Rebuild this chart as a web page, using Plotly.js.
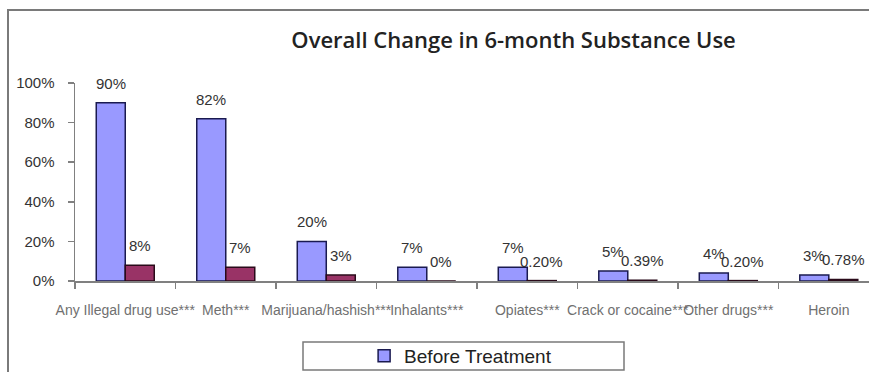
<!DOCTYPE html>
<html>
<head>
<meta charset="utf-8">
<script src="https://cdn.plot.ly/plotly-3.0.1.min.js"></script>
<style>
  html, body { margin: 0; padding: 0; background: #ffffff; }
  #wrap { position: relative; width: 869px; height: 372px; overflow: hidden; }
  #chart { position: absolute; left: 0; top: 0; width: 869px; height: 372px; }
  #frame { position: absolute; left: 7px; top: 9px; width: 900px; height: 400px;
           border-left: 2px solid #7a7a7a; border-top: 2px solid #7a7a7a; pointer-events: none; }
</style>
</head>
<body>
<div id="wrap">
  <div id="chart"></div>
  <div id="frame"></div>
</div>
<script>
const categories = ["Any Illegal drug use***", "Meth***", "Marijuana/hashish***", "Inhalants***",
                    "Opiates***", "Crack or cocaine***", "Other drugs***", "Heroin"];
const beforeValues = [90, 82, 20, 7, 7, 5, 4, 3];
const beforeLabels = ["90%", "82%", "20%", "7%", "7%", "5%", "4%", "3%"];
const afterValues = [8, 7, 3, 0, 0.20, 0.39, 0.20, 0.78];
const afterLabels = ["8%", "7%", "3%", "0%", "0.20%", "0.39%", "0.20%", "0.78%"];
const yTicks = [0, 20, 40, 60, 80, 100];
const yTickLabels = ["0%", "20%", "40%", "60%", "80%", "100%"];

const labelFont = { family: "Liberation Sans, Arial, sans-serif", size: 15, color: "#333333" };

const traces = [
  {
    type: "bar", name: "Before Treatment", x: categories, y: beforeValues,
    marker: { color: "#9999FF", line: { color: "#1a1a50", width: 1.5 } },
    hoverinfo: "x+y"
  },
  {
    type: "bar", name: "After Treatment", x: categories, y: afterValues,
    marker: { color: "#993366", line: { color: "#2a0a1a", width: 1.5 } },
    showlegend: false, hoverinfo: "x+y"
  }
];

// value labels, anchored to each bar through the axes (shift = half a bar width)
const BAR_HALF = 14.5;
const annotations = [];
categories.forEach((c, i) => {
  annotations.push({ x: c, y: beforeValues[i], xref: "x", yref: "y", text: beforeLabels[i],
    showarrow: false, xanchor: "center", yanchor: "bottom", xshift: -BAR_HALF, yshift: 9,
    font: labelFont });
  annotations.push({ x: c, y: afterValues[i], xref: "x", yref: "y", text: afterLabels[i],
    showarrow: false, xanchor: "center", yanchor: "bottom", xshift: BAR_HALF, yshift: 9,
    font: labelFont });
});

const layout = {
  width: 869, height: 372,
  margin: { l: 75, r: 0, t: 83, b: 91, pad: 0 },
  paper_bgcolor: "#ffffff", plot_bgcolor: "#ffffff",
  title: {
    text: "Overall Change in 6-month Substance Use",
    font: { family: "Open Sans, sans-serif", size: 22, color: "#222222", weight: 600 },
    x: 0.591, xanchor: "center", xref: "container",
    y: 0.892, yanchor: "middle", yref: "container"
  },
  barmode: "group", bargap: 0.423, bargroupgap: 0,
  xaxis: {
    type: "category", range: [-0.5, 7.40], fixedrange: true,
    showline: true, linecolor: "#808080", linewidth: 1.5,
    ticks: "outside", tickson: "boundaries", ticklen: 6, tickcolor: "#808080", tickwidth: 1.5,
    tickangle: 0, showgrid: false, zeroline: false, ticklabelstandoff: 16,
    tickfont: { family: "Liberation Sans, Arial, sans-serif", size: 14, color: "#707070" }
  },
  yaxis: {
    range: [0, 100], fixedrange: true,
    tickmode: "array", tickvals: yTicks, ticktext: yTickLabels,
    showline: true, linecolor: "#808080", linewidth: 1.5,
    ticks: "outside", ticklen: 6, tickcolor: "#808080", tickwidth: 1.5,
    showgrid: false, zeroline: false, ticklabelstandoff: 10,
    tickfont: { family: "Liberation Sans, Arial, sans-serif", size: 15, color: "#333333" }
  },
  showlegend: true,
  legend: {
    orientation: "h", xref: "container", yref: "container",
    x: 0.419, xanchor: "left", y: 0.043, yanchor: "middle",
    bgcolor: "rgba(0,0,0,0)", borderwidth: 0,
    font: { family: "Liberation Sans, Arial, sans-serif", size: 19, color: "#222222" }
  },
  annotations: annotations,
  shapes: [
    { type: "rect", xref: "paper", yref: "paper",
      x0: (303 - 75) / 794, x1: (624 - 75) / 794,
      y0: (281 - 342) / 198, y1: (281 - 370) / 198,
      line: { color: "#7a7a7a", width: 1.5 }, fillcolor: "rgba(0,0,0,0)" }
  ]
};

Plotly.newPlot("chart", traces, layout, { displayModeBar: false, staticPlot: true });
</script>
</body>
</html>
